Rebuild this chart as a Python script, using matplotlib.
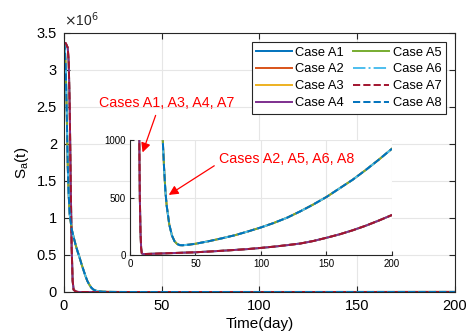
import matplotlib
matplotlib.use("Agg")
import matplotlib.pyplot as plt
from matplotlib.ticker import FuncFormatter

plt.rcParams["font.family"] = ["Liberation Sans", "DejaVu Sans"]

# Fast-decline group: Cases A1, A3, A4, A7
t_fast = [0, 1, 2, 2.5, 3, 3.5, 4, 4.5, 5, 6, 7, 7.5, 8, 8.5, 9, 10, 12,
          20, 30, 40, 50, 60, 70, 80, 90, 100, 110, 120, 130, 140, 150,
          160, 170, 180, 190, 200]
s_fast = [3.37e6, 3.36e6, 3.3e6, 3.1e6, 2.5e6, 1.5e6, 0.6e6, 0.15e6, 3.0e4,
          8000, 1100, 500, 200, 60, 15, 8, 9,
          12, 16, 20, 24, 30, 37, 44, 52, 62, 73, 86, 100, 122, 150,
          180, 215, 255, 300, 348]

# Slow-decline group: Cases A2, A5, A6, A8
t_slow = [0, 0.5, 1, 1.5, 2, 2.5, 3, 4, 5, 6, 7, 8, 9, 10, 11, 12, 13, 14,
          15, 16, 18, 20, 22, 24, 25, 26, 27, 28, 30, 32, 34, 36, 38, 40,
          45, 50, 60, 70, 80, 90, 100, 110, 120, 130, 140, 150, 160, 170,
          180, 190, 200]
s_slow = [3.37e6, 3.3e6, 3.0e6, 2.4e6, 1.7e6, 1.3e6, 1.05e6, 0.85e6, 0.74e6,
          0.64e6, 0.55e6, 0.47e6, 0.38e6, 0.3e6, 0.22e6, 0.15e6, 0.1e6, 6.0e4,
          3.5e4, 2.0e4, 8000, 4000, 2200, 1250, 1000, 760, 560, 430, 265, 170,
          120, 96, 86, 85, 90, 98, 120, 145, 172, 205, 240, 280, 325, 380,
          440, 505, 580, 655, 740, 830, 925]

cases = ["Case A1", "Case A2", "Case A3", "Case A4",
         "Case A5", "Case A6", "Case A7", "Case A8"]
groups = ["fast", "slow", "fast", "fast", "slow", "slow", "fast", "slow"]
colors = ["#0072BD", "#D95319", "#EDB120", "#7E2F8E",
          "#77AC30", "#4DBEEE", "#A2142F", "#0072BD"]
styles = ["-", "-", "-", "-", "-", "-.", "--", "--"]

data = {"fast": (t_fast, s_fast), "slow": (t_slow, s_slow)}

fig = plt.figure(figsize=(4.66, 3.36), dpi=100)
ax = fig.add_axes([0.137, 0.131, 0.839, 0.771])

for name, grp, col, ls in zip(cases, groups, colors, styles):
    t, s = data[grp]
    ax.plot(t, s, color=col, linestyle=ls, linewidth=1.4, label=name)

ax.set_xlim(0, 200)
ax.set_ylim(0, 3.5e6)
ax.set_xticks([0, 50, 100, 150, 200])
ax.set_yticks([0, 0.5e6, 1e6, 1.5e6, 2e6, 2.5e6, 3e6, 3.5e6])
ax.yaxis.set_major_formatter(FuncFormatter(lambda v, p: f"{v / 1e6:g}"))
ax.text(0.0, 1.015, r"$\times$10$^{6}$", transform=ax.transAxes,
        fontsize=10, ha="left", va="bottom", color="#262626")
ax.grid(True, color="#e6e6e6", linewidth=0.8)
ax.set_axisbelow(True)
ax.tick_params(direction="in", top=True, right=True, labelsize=10.5,
               color="#262626", length=4, pad=5)
for sp in ax.spines.values():
    sp.set_color("#262626")
    sp.set_linewidth(0.8)
ax.set_xlabel("Time(day)", fontsize=11, labelpad=3)
ax.set_ylabel(r"S$_\mathregular{a}$(t)", fontsize=11)

leg = ax.legend(ncol=2, loc="upper right", fontsize=9.3, frameon=True,
                fancybox=False, framealpha=1, edgecolor="#262626",
                handlelength=2.8, handletextpad=0.25, columnspacing=0.7,
                labelspacing=0.38, borderpad=0.35, borderaxespad=0.7)
leg.get_frame().set_linewidth(0.8)

# inset
axi = fig.add_axes([0.279, 0.241, 0.562, 0.342])
for name, grp, col, ls in zip(cases, groups, colors, styles):
    t, s = data[grp]
    axi.plot(t, s, color=col, linestyle=ls, linewidth=1.4)
axi.set_xlim(0, 200)
axi.set_ylim(0, 1000)
axi.set_xticks([0, 50, 100, 150, 200])
axi.set_yticks([0, 500, 1000])
axi.grid(True, color="#e6e6e6", linewidth=0.8)
axi.set_axisbelow(True)
axi.tick_params(direction="in", labelsize=7, color="#262626", length=3,
                pad=3)
for sp in axi.spines.values():
    sp.set_color("#262626")
    sp.set_linewidth(0.8)
axi.spines["top"].set_visible(False)
axi.spines["right"].set_visible(False)

axi.annotate("Cases A1, A3, A4, A7", xy=(8.9, 870),
             xytext=(167 / 466, 1 - 103 / 336), textcoords="figure fraction",
             ha="center", va="center", color="red", fontsize=10.3,
             arrowprops=dict(arrowstyle="-|>", color="red", linewidth=0.9,
                             mutation_scale=14, relpos=(0.43, 0.0)),
             annotation_clip=False)
axi.annotate("Cases A2, A5, A6, A8", xy=(27.8, 510),
             xytext=(287 / 466, 1 - 159 / 336), textcoords="figure fraction",
             ha="center", va="center", color="red", fontsize=10.3,
             arrowprops=dict(arrowstyle="-|>", color="red", linewidth=0.9,
                             mutation_scale=14, relpos=(0.0, 0.25)),
             annotation_clip=False)

fig.savefig("out.png", dpi=100)
